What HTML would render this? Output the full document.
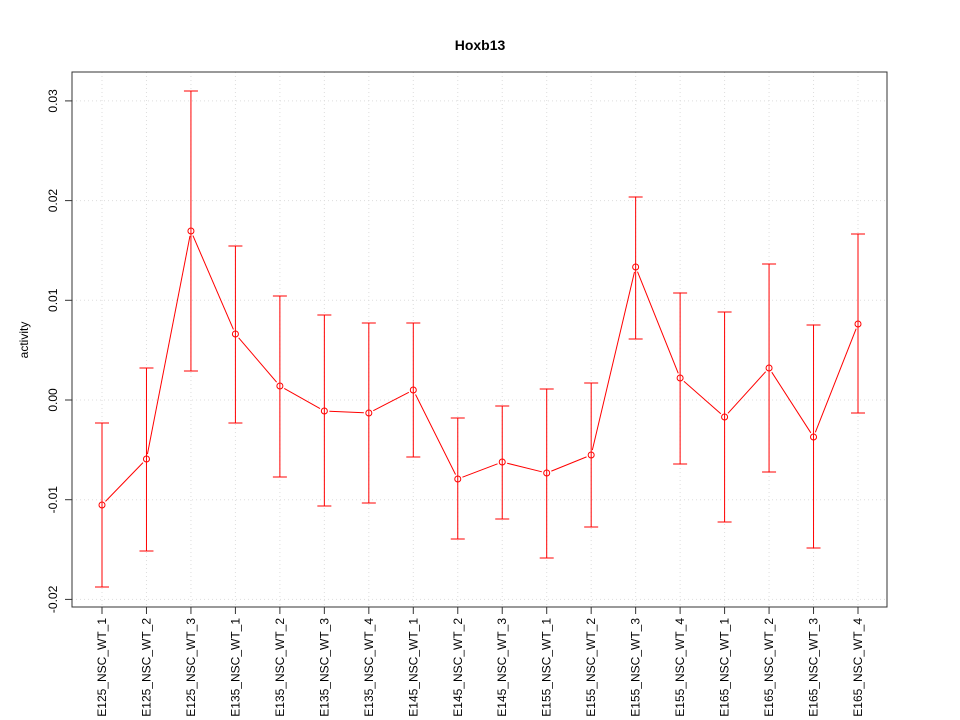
<!DOCTYPE html>
<html><head><meta charset="utf-8"><style>body{margin:0;background:#fff}svg{display:block}</style></head><body>
<svg width="960" height="720" xmlns="http://www.w3.org/2000/svg" font-family="Liberation Sans, sans-serif">
<g id="g"></g>
<script>
const ns="http://www.w3.org/2000/svg",g=document.getElementById('g');
function el(t,a,txt){const e=document.createElementNS(ns,t);for(const k in a)e.setAttribute(k,a[k]);if(txt!==undefined)e.textContent=txt;g.appendChild(e);return e;}
const X=i=>102+i*(858-102)/17;
const Y=v=>400-v*9970;
const labels=["E125_NSC_WT_1","E125_NSC_WT_2","E125_NSC_WT_3","E135_NSC_WT_1","E135_NSC_WT_2","E135_NSC_WT_3","E135_NSC_WT_4","E145_NSC_WT_1","E145_NSC_WT_2","E145_NSC_WT_3","E155_NSC_WT_1","E155_NSC_WT_2","E155_NSC_WT_3","E155_NSC_WT_4","E165_NSC_WT_1","E165_NSC_WT_2","E165_NSC_WT_3","E165_NSC_WT_4"];
const d=[[505,423,587],[459,368,551],[231,91,371],[334,246,423],[386,296,477],[411,315,506],[413,323,503],[390,323,457],[479,418,539],[462,406,519],[473,389,558],[455,383,527],[267,197,339],[378,293,464],[417,312,522],[368,264,472],[437,325,548],[324,234,413]];
for(let i=0;i<18;i++)el('line',{x1:X(i),x2:X(i),y1:72,y2:607,stroke:'#dddddd','stroke-dasharray':'1,3'});
[0.03,0.02,0.01,0,-0.01,-0.02].forEach(v=>{const y=Y(v);el('line',{x1:72,x2:887,y1:y,y2:y,stroke:'#dddddd','stroke-dasharray':'1,3'});
el('line',{x1:65,x2:72,y1:y,y2:y,stroke:'#333'});
el('text',{x:0,y:0,transform:`translate(57,${y}) rotate(-90)`,'text-anchor':'middle','font-size':12},v.toFixed(2));});
for(let i=0;i<18;i++){const x=X(i),[m,u,l]=d[i];
el('line',{x1:x,x2:x,y1:u,y2:l,stroke:'#ff0000'});
el('line',{x1:x-7,x2:x+7,y1:u,y2:u,stroke:'#ff0000'});
el('line',{x1:x-7,x2:x+7,y1:l,y2:l,stroke:'#ff0000'});
el('circle',{cx:x,cy:m,r:3,fill:'none',stroke:'#ff0000'});
if(i<17){const x2=X(i+1),m2=d[i+1][0],dx=x2-x,dy=m2-m,L=Math.hypot(dx,dy),s=5/L;
if(L>10)el('line',{x1:x+dx*s,y1:m+dy*s,x2:x2-dx*s,y2:m2-dy*s,stroke:'#ff0000'});}
el('line',{x1:x,x2:x,y1:607,y2:614,stroke:'#333'});
el('text',{x:0,y:0,transform:`translate(${x+4},618) rotate(-90)`,'text-anchor':'end','font-size':12},labels[i]);}
el('rect',{x:72,y:72,width:815,height:535,fill:'none',stroke:'#333'});
el('text',{x:480,y:50,'text-anchor':'middle','font-size':14,'font-weight':'bold'},'Hoxb13');
el('text',{x:0,y:0,transform:'translate(28,340) rotate(-90)','text-anchor':'middle','font-size':12},'activity');
</script>
</svg>
</body></html>
